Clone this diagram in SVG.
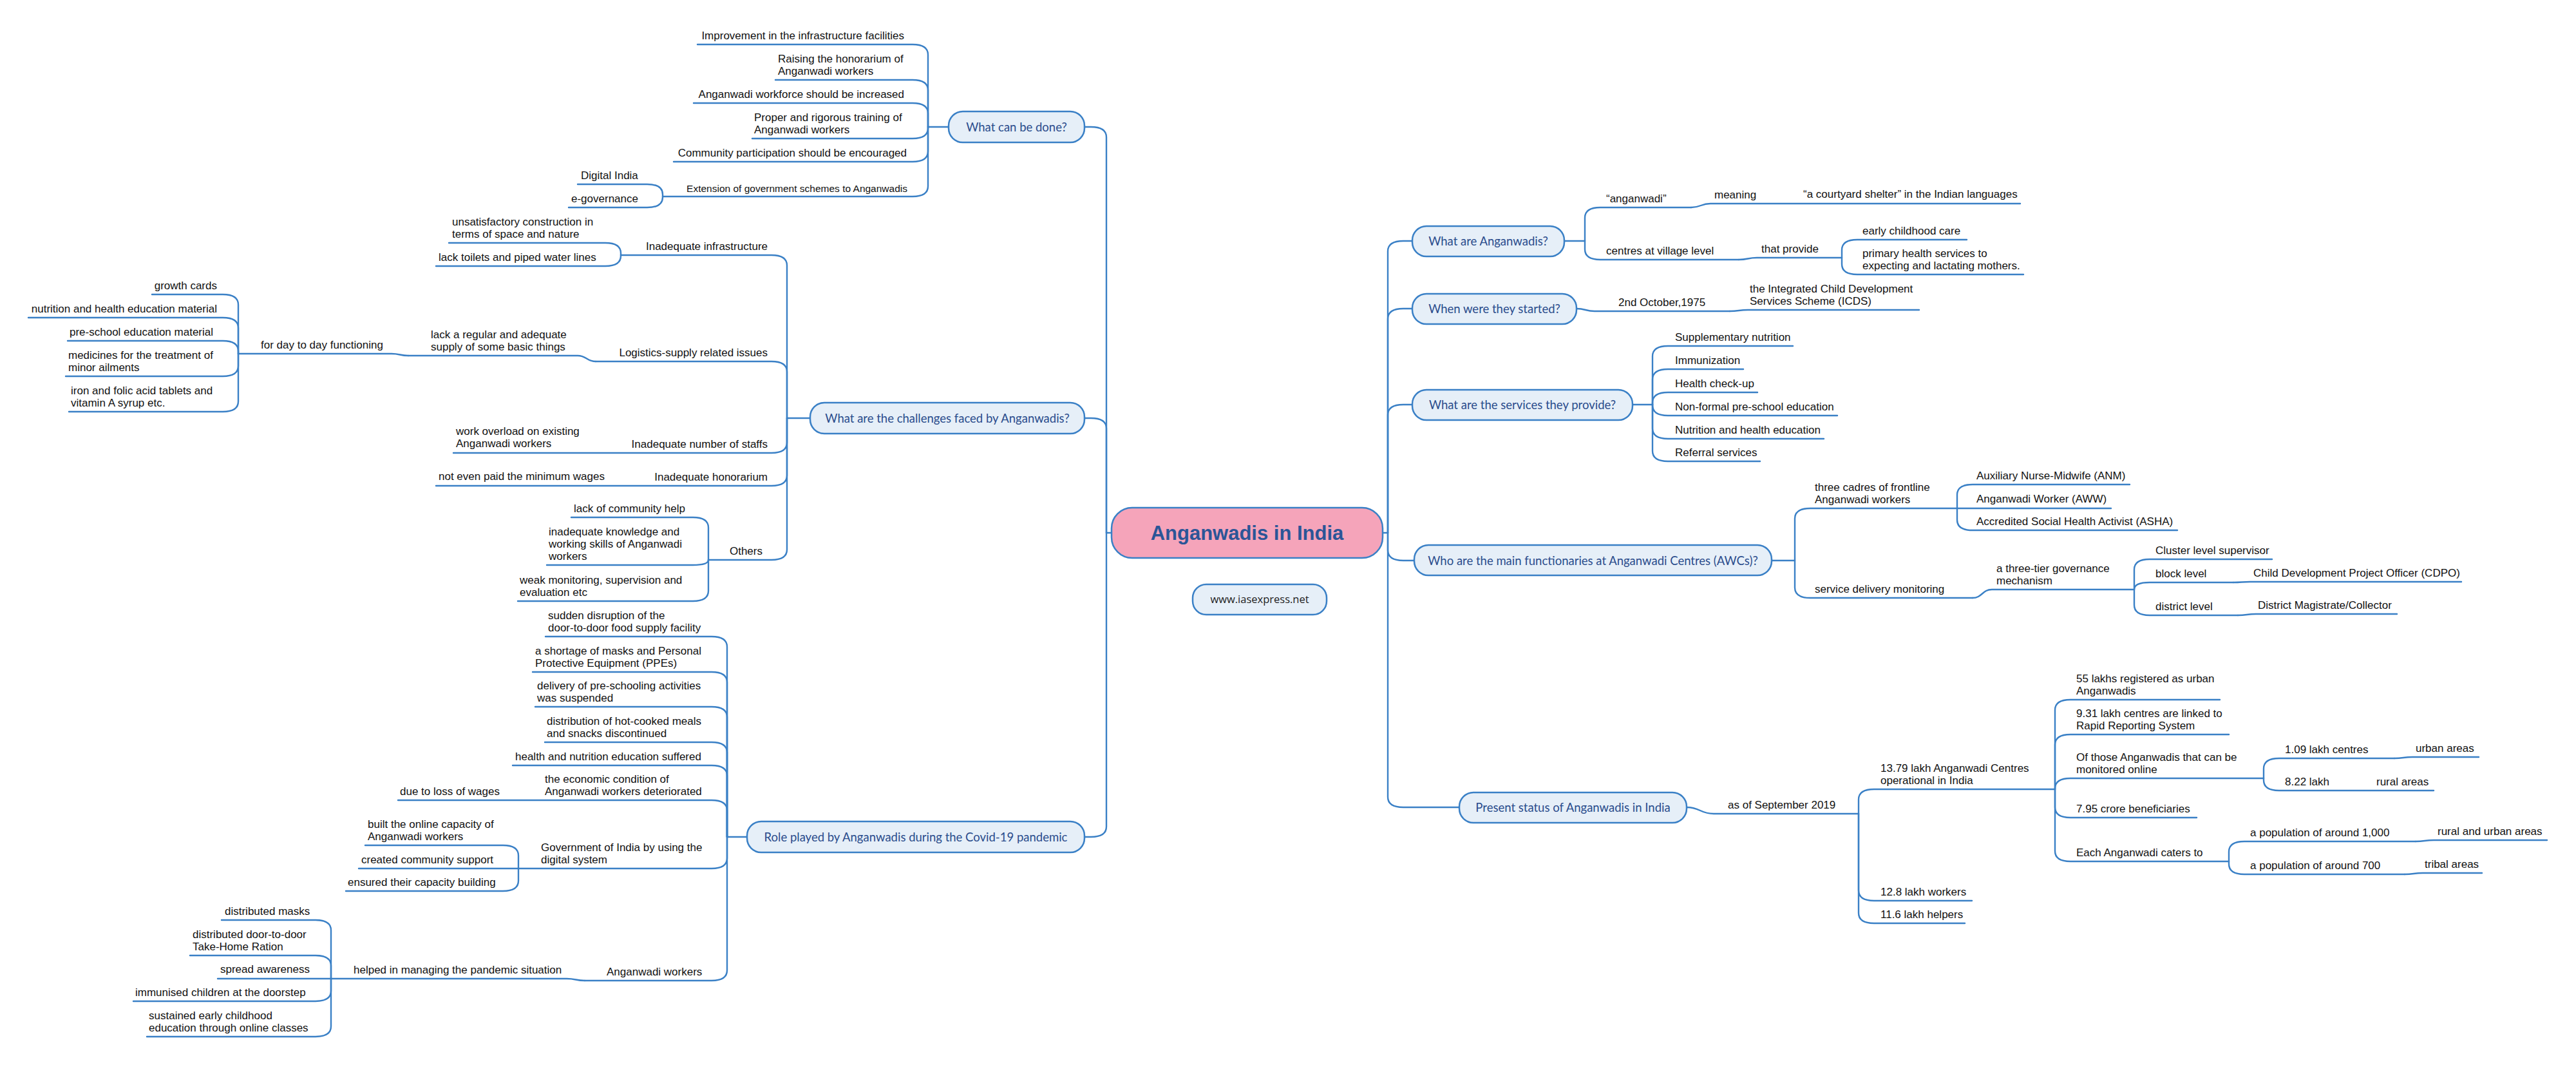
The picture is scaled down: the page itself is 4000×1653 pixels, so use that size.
<svg xmlns="http://www.w3.org/2000/svg" width="4000" height="1653" viewBox="0 0 4000 1653">
<style>
.t{font-family:"Liberation Sans",Arial,sans-serif;font-size:17px;fill:#111}
.e{text-anchor:end}
.ts{font-size:15.5px}
.h{font-family:Lato,"Liberation Sans",sans-serif;font-size:18.5px;fill:#2A4C8C;text-anchor:middle}
.box{fill:#E6EFF8;stroke:#3A80C6;stroke-width:2.5}
.c path{fill:none;stroke:#3A80C6;stroke-width:2.4;stroke-linecap:round}
</style>
<rect width="4000" height="1653" fill="#fff"/>
<g class="c" id="connectors">
<path d="M1726 827H1718M2147 827H2155"/>
<path d="M1718 827V213Q1718 197 1694 197H1684"/>
<path d="M1718 827V665Q1718 649 1694 649H1684"/>
<path d="M1718 827V1283Q1718 1299 1694 1299H1684"/>
<path d="M2155 827V390Q2155 374 2179 374H2193"/>
<path d="M2155 827V495Q2155 479 2179 479H2193"/>
<path d="M2155 827V644Q2155 628 2179 628H2193"/>
<path d="M2155 827V854Q2155 870 2179 870H2196"/>
<path d="M2155 827V1237Q2155 1253 2179 1253H2266"/>
<path d="M1473 197H1441"/>
<path d="M1441 197V85Q1441 69 1417 69H1083"/>
<path d="M1441 197V140Q1441 124 1417 124H1204"/>
<path d="M1441 197V176Q1441 160 1417 160H1077"/>
<path d="M1441 197V199Q1441 215 1417 215H1168"/>
<path d="M1441 197V235Q1441 251 1417 251H1046"/>
<path d="M1441 197V289Q1441 305 1417 305H1029"/>
<path d="M1029 305V302Q1029 286 1005 286H897"/>
<path d="M1029 305V306Q1029 322 1005 322H883"/>
<path d="M1258 649H1222"/>
<path d="M1222 649V412Q1222 396 1198 396H964"/>
<path d="M1222 649V577Q1222 561 1198 561H925"/>
<path d="M1222 649V687Q1222 703 1198 703H704"/>
<path d="M1222 649V738Q1222 754 1198 754H677"/>
<path d="M1222 649V853Q1222 869 1198 869H1100"/>
<path d="M964 396V393Q964 377 940 377H697"/>
<path d="M964 396V397Q964 413 940 413H677"/>
<path d="M925 561C911 561 911 552 897 552H634"/>
<path d="M634 552C621 552 621 549 608 549H370"/>
<path d="M370 549V473Q370 457 346 457H236"/>
<path d="M370 549V509Q370 493 346 493H44"/>
<path d="M370 549V545Q370 529 346 529H105"/>
<path d="M370 549V568Q370 584 346 584H102"/>
<path d="M370 549V623Q370 639 346 639H107"/>
<path d="M1100 869V819Q1100 803 1076 803H887"/>
<path d="M1100 869V869Q1100 877 1076 877H849"/>
<path d="M1100 869V917Q1100 933 1076 933H804"/>
<path d="M1160 1299H1129"/>
<path d="M1129 1299V1004Q1129 988 1105 988H847"/>
<path d="M1129 1299V1059Q1129 1043 1105 1043H827"/>
<path d="M1129 1299V1113Q1129 1097 1105 1097H831"/>
<path d="M1129 1299V1168Q1129 1152 1105 1152H846"/>
<path d="M1129 1299V1204Q1129 1188 1105 1188H796"/>
<path d="M1129 1299V1258Q1129 1242 1105 1242H618"/>
<path d="M1129 1299V1332Q1129 1348 1105 1348H805"/>
<path d="M1129 1299V1506Q1129 1522 1105 1522H908"/>
<path d="M805 1348V1328Q805 1312 781 1312H567"/>
<path d="M805 1348H557"/>
<path d="M805 1348V1367Q805 1383 781 1383H537"/>
<path d="M908 1522C894 1522 894 1519 880 1519H514"/>
<path d="M514 1519V1444Q514 1428 490 1428H344"/>
<path d="M514 1519V1499Q514 1483 490 1483H295"/>
<path d="M514 1519H338"/>
<path d="M514 1519V1538Q514 1554 490 1554H207"/>
<path d="M514 1519V1593Q514 1609 490 1609H228"/>
<path d="M2429 374H2461"/>
<path d="M2461 374V338Q2461 322 2485 322H2626"/>
<path d="M2626 322C2641 322 2641 316 2656 316H3137"/>
<path d="M2461 374V387Q2461 403 2485 403H2700"/>
<path d="M2700 403C2714 403 2714 400 2728 400H2860"/>
<path d="M2860 400V388Q2860 372 2884 372H3054"/>
<path d="M2860 400V410Q2860 426 2884 426H3142"/>
<path d="M2448 479C2462 479 2462 483 2476 483H2686"/>
<path d="M2686 483C2700 483 2700 481 2714 481H2980"/>
<path d="M2535 628H2566"/>
<path d="M2566 628V553Q2566 537 2590 537H2784"/>
<path d="M2566 628V589Q2566 573 2590 573H2707"/>
<path d="M2566 628V625Q2566 609 2590 609H2729"/>
<path d="M2566 628V629Q2566 645 2590 645H2853"/>
<path d="M2566 628V665Q2566 681 2590 681H2832"/>
<path d="M2566 628V700Q2566 716 2590 716H2733"/>
<path d="M2751 870H2787"/>
<path d="M2787 870V805Q2787 789 2811 789H3039"/>
<path d="M3039 789V768Q3039 752 3063 752H3307"/>
<path d="M3039 789H3278"/>
<path d="M3039 789V807Q3039 823 3063 823H3381"/>
<path d="M2787 870V912Q2787 928 2811 928H3063"/>
<path d="M3063 928C3078 928 3078 915 3093 915H3314"/>
<path d="M3314 915V884Q3314 868 3338 868H3528"/>
<path d="M3314 915Q3314 904 3338 904H3468"/>
<path d="M3468 904C3481 904 3481 903 3494 903H3822"/>
<path d="M3314 915V939Q3314 955 3338 955H3475"/>
<path d="M3475 955C3489 955 3489 953 3503 953H3722"/>
<path d="M2619 1253C2640 1253 2640 1263 2661 1263H2886"/>
<path d="M2886 1263V1241Q2886 1225 2910 1225H3191"/>
<path d="M2886 1263V1382Q2886 1398 2910 1398H3062"/>
<path d="M2886 1263V1417Q2886 1433 2910 1433H3051"/>
<path d="M3191 1225V1102Q3191 1086 3215 1086H3447"/>
<path d="M3191 1225V1156Q3191 1140 3215 1140H3461"/>
<path d="M3191 1225V1224Q3191 1208 3215 1208H3515"/>
<path d="M3191 1225V1253Q3191 1269 3215 1269H3411"/>
<path d="M3191 1225V1321Q3191 1337 3215 1337H3461"/>
<path d="M3515 1208V1193Q3515 1177 3539 1177H3718"/>
<path d="M3718 1177C3732 1177 3732 1175 3746 1175H3849"/>
<path d="M3515 1208V1211Q3515 1227 3539 1227H3779"/>
<path d="M3461 1337V1322Q3461 1306 3485 1306H3751"/>
<path d="M3751 1306C3765 1306 3765 1304 3779 1304H3955"/>
<path d="M3461 1337V1341Q3461 1357 3485 1357H3734"/>
<path d="M3734 1357C3748 1357 3748 1355 3762 1355H3854"/>
</g>

<g id="root">
<rect x="1726" y="788" width="421" height="78" rx="32" fill="#F5A4BA" stroke="#3A80C6" stroke-width="2.5"/>
<text x="1936.5" y="838" text-anchor="middle" style="font-family:'Liberation Sans',Arial,sans-serif;font-weight:bold;font-size:31px;fill:#2B5597">Anganwadis in India</text>
</g>
<g id="website">
<rect class="box" x="1852" y="907" width="208" height="47" rx="21"/>
<text x="1956" y="936" text-anchor="middle" style="font-family:'Open Sans','Liberation Sans',sans-serif;font-size:16.5px;fill:#222">www.iasexpress.net</text>
</g>

<g id="what-can-be-done">
<rect class="box" x="1473" y="173" width="211" height="48" rx="22"/>
<text class="h" x="1578.5" y="203.5">What can be done?</text>
</g>
<g id="wcd-children">
<text class="t e" x="1404" y="61">Improvement in the infrastructure facilities</text>
<text class="t" x="1208" y="97">Raising the honorarium of<tspan x="1208" dy="19">Anganwadi workers</tspan></text>
<text class="t e" x="1404" y="152">Anganwadi workforce should be increased</text>
<text class="t" x="1171" y="188">Proper and rigorous training of<tspan x="1171" dy="19">Anganwadi workers</tspan></text>
<text class="t e" x="1408" y="243">Community participation should be encouraged</text>
<text class="t ts e" x="1409" y="298">Extension of government schemes to Anganwadis</text>
<text class="t" x="902" y="278">Digital India</text>
<text class="t" x="887" y="314">e-governance</text>
</g>

<g id="challenges">
<rect class="box" x="1258" y="625" width="426" height="48" rx="22"/>
<text class="h" x="1471" y="655.5">What are the challenges faced by Anganwadis?</text>
</g>
<g id="challenges-children">
<text class="t e" x="1192" y="388">Inadequate infrastructure</text>
<text class="t" x="702" y="350">unsatisfactory construction in<tspan x="702" dy="19">terms of space and nature</tspan></text>
<text class="t" x="681" y="405">lack toilets and piped water lines</text>
<text class="t e" x="1192" y="553">Logistics-supply related issues</text>
<text class="t" x="669" y="525">lack a regular and adequate<tspan x="669" dy="19">supply of some basic things</tspan></text>
<text class="t" x="405" y="541">for day to day functioning</text>
<text class="t e" x="337" y="449">growth cards</text>
<text class="t e" x="337" y="485">nutrition and health education material</text>
<text class="t" x="108" y="521">pre-school education material</text>
<text class="t" x="106" y="557">medicines for the treatment of<tspan x="106" dy="19">minor ailments</tspan></text>
<text class="t" x="110" y="612">iron and folic acid tablets and<tspan x="110" dy="19">vitamin A syrup etc.</tspan></text>
<text class="t e" x="1192" y="695">Inadequate number of staffs</text>
<text class="t" x="708" y="675">work overload on existing<tspan x="708" dy="19">Anganwadi workers</tspan></text>
<text class="t e" x="1192" y="746">Inadequate honorarium</text>
<text class="t" x="681" y="745">not even paid the minimum wages</text>
<text class="t e" x="1184" y="861">Others</text>
<text class="t" x="891" y="795">lack of community help</text>
<text class="t" x="852" y="831">inadequate knowledge and<tspan x="852" dy="19">working skills of Anganwadi</tspan><tspan x="852" dy="19">workers</tspan></text>
<text class="t" x="807" y="906">weak monitoring, supervision and<tspan x="807" dy="19">evaluation etc</tspan></text>
</g>

<g id="role-covid">
<rect class="box" x="1160" y="1275" width="524" height="48" rx="22"/>
<text class="h" x="1422" y="1305.5">Role played by Anganwadis during the Covid-19 pandemic</text>
</g>
<g id="role-children">
<text class="t" x="851" y="961">sudden disruption of the<tspan x="851" dy="19">door-to-door food supply facility</tspan></text>
<text class="t" x="831" y="1016">a shortage of masks and Personal<tspan x="831" dy="19">Protective Equipment (PPEs)</tspan></text>
<text class="t" x="834" y="1070">delivery of pre-schooling activities<tspan x="834" dy="19">was suspended</tspan></text>
<text class="t" x="849" y="1125">distribution of hot-cooked meals<tspan x="849" dy="19">and snacks discontinued</tspan></text>
<text class="t" x="800" y="1180">health and nutrition education suffered</text>
<text class="t" x="846" y="1215">the economic condition of<tspan x="846" dy="19">Anganwadi workers deteriorated</tspan></text>
<text class="t" x="621" y="1234">due to loss of wages</text>
<text class="t" x="840" y="1321">Government of India by using the<tspan x="840" dy="19">digital system</tspan></text>
<text class="t" x="571" y="1285">built the online capacity of<tspan x="571" dy="19">Anganwadi workers</tspan></text>
<text class="t" x="561" y="1340">created community support</text>
<text class="t" x="540" y="1375">ensured their capacity building</text>
<text class="t" x="942" y="1514">Anganwadi workers</text>
<text class="t" x="549" y="1511">helped in managing the pandemic situation</text>
<text class="t" x="349" y="1420">distributed masks</text>
<text class="t" x="299" y="1456">distributed door-to-door<tspan x="299" dy="19">Take-Home Ration</tspan></text>
<text class="t" x="342" y="1510">spread awareness</text>
<text class="t" x="210" y="1546">immunised children at the doorstep</text>
<text class="t" x="231" y="1582">sustained early childhood<tspan x="231" dy="19">education through online classes</tspan></text>
</g>

<g id="what-are-anganwadis">
<rect class="box" x="2193" y="351" width="236" height="47" rx="22"/>
<text class="h" x="2311" y="380.5">What are Anganwadis?</text>
</g>
<g id="wa-children">
<text class="t" x="2494" y="314">“anganwadi”</text>
<text class="t" x="2662" y="308">meaning</text>
<text class="t" x="2800" y="307">“a courtyard shelter” in the Indian languages</text>
<text class="t" x="2494" y="395">centres at village level</text>
<text class="t" x="2735" y="392">that provide</text>
<text class="t" x="2892" y="364">early childhood care</text>
<text class="t" x="2892" y="399">primary health services to<tspan x="2892" dy="19">expecting and lactating mothers.</tspan></text>
</g>

<g id="when-started">
<rect class="box" x="2193" y="456" width="255" height="47" rx="22"/>
<text class="h" x="2320.5" y="485.5">When were they started?</text>
</g>
<g id="ws-children">
<text class="t" x="2513" y="475">2nd October,1975</text>
<text class="t" x="2717" y="454">the Integrated Child Development<tspan x="2717" dy="19">Services Scheme (ICDS)</tspan></text>
</g>

<g id="services">
<rect class="box" x="2193" y="605" width="342" height="47" rx="22"/>
<text class="h" x="2364" y="634.5">What are the services they provide?</text>
</g>
<g id="services-children">
<text class="t" x="2601" y="529">Supplementary nutrition</text>
<text class="t" x="2601" y="565">Immunization</text>
<text class="t" x="2601" y="601">Health check-up</text>
<text class="t" x="2601" y="637">Non-formal pre-school education</text>
<text class="t" x="2601" y="673">Nutrition and health education</text>
<text class="t" x="2601" y="708">Referral services</text>
</g>

<g id="functionaries">
<rect class="box" x="2196" y="846" width="555" height="47" rx="22"/>
<text class="h" x="2473.5" y="876.5">Who are the main functionaries at Anganwadi Centres (AWCs)?</text>
</g>
<g id="functionaries-children">
<text class="t" x="2818" y="762">three cadres of frontline<tspan x="2818" dy="19">Anganwadi workers</tspan></text>
<text class="t" x="3069" y="744">Auxiliary Nurse-Midwife (ANM)</text>
<text class="t" x="3069" y="780">Anganwadi Worker (AWW)</text>
<text class="t" x="3069" y="815">Accredited Social Health Activist (ASHA)</text>
<text class="t" x="2818" y="920">service delivery monitoring</text>
<text class="t" x="3100" y="888">a three-tier governance<tspan x="3100" dy="19">mechanism</tspan></text>
<text class="t" x="3347" y="860">Cluster level supervisor</text>
<text class="t" x="3347" y="896">block level</text>
<text class="t" x="3499" y="895">Child Development Project Officer (CDPO)</text>
<text class="t" x="3347" y="947">district level</text>
<text class="t" x="3506" y="945">District Magistrate/Collector</text>
</g>

<g id="present-status">
<rect class="box" x="2266" y="1230" width="353" height="47" rx="22"/>
<text class="h" x="2442.5" y="1259.5">Present status of Anganwadis in India</text>
</g>
<g id="ps-children">
<text class="t" x="2683" y="1255">as of September 2019</text>
<text class="t" x="2920" y="1198">13.79 lakh Anganwadi Centres<tspan x="2920" dy="19">operational in India</tspan></text>
<text class="t" x="3224" y="1059">55 lakhs registered as urban<tspan x="3224" dy="19">Anganwadis</tspan></text>
<text class="t" x="3224" y="1113">9.31 lakh centres are linked to<tspan x="3224" dy="19">Rapid Reporting System</tspan></text>
<text class="t" x="3224" y="1181">Of those Anganwadis that can be<tspan x="3224" dy="19">monitored online</tspan></text>
<text class="t" x="3548" y="1169">1.09 lakh centres</text>
<text class="t" x="3751" y="1167">urban areas</text>
<text class="t" x="3548" y="1219">8.22 lakh</text>
<text class="t" x="3690" y="1219">rural areas</text>
<text class="t" x="3224" y="1261">7.95 crore beneficiaries</text>
<text class="t" x="3224" y="1329">Each Anganwadi caters to</text>
<text class="t" x="3494" y="1298">a population of around 1,000</text>
<text class="t" x="3785" y="1296">rural and urban areas</text>
<text class="t" x="3494" y="1349">a population of around 700</text>
<text class="t" x="3765" y="1347">tribal areas</text>
<text class="t" x="2920" y="1390">12.8 lakh workers</text>
<text class="t" x="2920" y="1425">11.6 lakh helpers</text>
</g>
</svg>
